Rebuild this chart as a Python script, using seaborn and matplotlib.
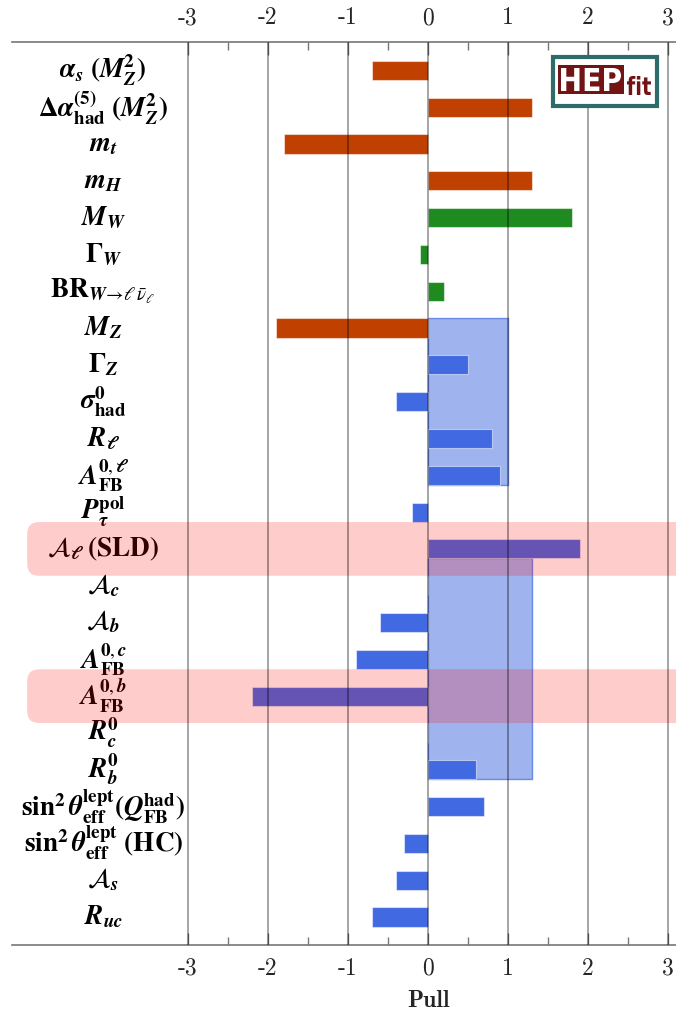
import matplotlib
matplotlib.use("Agg")
import matplotlib.pyplot as plt
import pandas as pd
import seaborn as sns
from matplotlib.patches import Rectangle, FancyBboxPatch, PathPatch
from matplotlib.textpath import TextPath
from matplotlib.font_manager import FontProperties
from matplotlib.transforms import Affine2D

# Observables (top to bottom), their display labels and pulls
params = ["alpha_s", "dalpha_had", "m_t", "m_H", "M_W", "Gamma_W", "BR_W",
          "M_Z", "Gamma_Z", "sigma_had", "R_l", "AFB_l", "P_tau", "A_l_SLD",
          "A_c", "A_b", "AFB_c", "AFB_b", "R_c", "R_b", "s2w_QFB", "s2w_HC",
          "A_s", "R_uc"]

labels = [
    r"$\mathbfit{\alpha_s}\ \mathbf{(}\mathbfit{M_Z^{\mathbf{2}}}\mathbf{)}$",
    r"$\mathbf{\Delta}\mathbfit{\alpha}^{\mathbf{(5)}}_{\mathbf{had}}\ \mathbf{(}\mathbfit{M_Z^{\mathbf{2}}}\mathbf{)}$",
    r"$\mathbfit{m_t}$",
    r"$\mathbfit{m_H}$",
    r"$\mathbfit{M_W}$",
    r"$\mathbf{\Gamma}_{\mathbfit{W}}$",
    r"$\mathbf{BR}_{\mathbfit{W}\!\rightarrow\!\ell\,\bar{\nu}_\ell}$",
    r"$\mathbfit{M_Z}$",
    r"$\mathbf{\Gamma}_{\mathbfit{Z}}$",
    r"$\mathbfit{\sigma}^{\mathbf{0}}_{\mathbf{had}}$",
    r"$\mathbfit{R}_{\mathbfit{\ell}}$",
    r"$\mathbfit{A}^{\mathbf{0},\mathbfit{\ell}}_{\mathbf{FB}}$",
    r"$\mathbfit{P}^{\mathbf{pol}}_{\mathbfit{\tau}}$",
    r"$\mathcal{A}_{\mathbfit{\ell}}\ \mathbf{(SLD)}$",
    r"$\mathcal{A}_{\mathbfit{c}}$",
    r"$\mathcal{A}_{\mathbfit{b}}$",
    r"$\mathbfit{A}^{\mathbf{0},\mathbfit{c}}_{\mathbf{FB}}$",
    r"$\mathbfit{A}^{\mathbf{0},\mathbfit{b}}_{\mathbf{FB}}$",
    r"$\mathbfit{R}^{\mathbf{0}}_{\mathbfit{c}}$",
    r"$\mathbfit{R}^{\mathbf{0}}_{\mathbfit{b}}$",
    r"$\mathbf{sin}^{\mathbf{2}}\,\mathbfit{\theta}^{\mathbf{lept}}_{\mathbf{eff}}\mathbf{(}\mathbfit{Q}^{\mathbf{had}}_{\mathbf{FB}}\mathbf{)}$",
    r"$\mathbf{sin}^{\mathbf{2}}\,\mathbfit{\theta}^{\mathbf{lept}}_{\mathbf{eff}}\ \mathbf{(HC)}$",
    r"$\mathcal{A}_{\mathbfit{s}}$",
    r"$\mathbfit{R}_{\mathbfit{uc}}$",
]

pulls = [-0.7, 1.3, -1.8, 1.3, 1.8, -0.1, 0.2, -1.9, 0.5, -0.4, 0.8, 0.9,
         -0.2, 1.9, 0.0, -0.6, -0.9, -2.2, 0.0, 0.6, 0.7, -0.3, -0.4, -0.7]

groups = (["input"] * 4 + ["W"] * 3 + ["input"] + ["Z"] * 16)

palette = {"input": "#C04000", "W": "#1F8A1F", "Z": "#4169E1"}

# Shaded pull ranges: (first edge, last edge, pull)
shades = [(6.74, 11.26, 1.0), (13.26, 19.26, 1.3)]
# Highlighted rows
highlight_rows = [13, 17]

ticks = [-3, -2, -1, 0, 1, 2, 3]
tick_labels = ["-3", "-2", "-1", "0", "1", "2", "3"]
minor_ticks = [-2.5, -1.5, -0.5, 0.5, 1.5, 2.5]

sns.set_theme(style="white")
plt.rcParams["mathtext.fontset"] = "stix"

W, H = 676, 1011
fig = plt.figure(figsize=(W / 100, H / 100), dpi=100)
ax = fig.add_axes([12 / W, 1 - 945 / H, 1 - 12 / W, (945 - 42) / H])

df = pd.DataFrame({"param": params, "pull": pulls, "group": groups})
sns.barplot(data=df, x="pull", y="param", hue="group", palette=palette,
            dodge=False, orient="h", width=0.52, legend=False, ax=ax,
            edgecolor=(1, 1, 1, 0.5), linewidth=0.8, saturation=1, zorder=2)

royal = (65 / 255, 105 / 255, 225 / 255)
for y0, y1, w in shades:
    ax.add_patch(Rectangle((0, y0), w, y1 - y0, facecolor=(*royal, 0.5),
                           edgecolor=(*royal, 0.7), lw=1, zorder=1))

for r in highlight_rows:
    ax.add_patch(FancyBboxPatch((-5.01, r - 0.73), 8.7, 1.46,
                                boxstyle="round,pad=0,rounding_size=0.15",
                                mutation_aspect=2.17, facecolor=(1, 0, 0, 0.2),
                                edgecolor="none", zorder=4))

for i, lab in enumerate(labels):
    ax.text(-4.06, i, lab, ha="center", va="center", fontsize=19.5, color="black", zorder=3)

for t in ticks:
    ax.axvline(t, color=(0, 0, 0, 0.45), lw=1.1, zorder=5)

ax.set_xlim(-5.2, 3.1)
ax.set_ylim(23.76, -0.77)
ax.set_yticks([])
ax.set_ylabel("")
ax.set_xticks(ticks)
ax.set_xticklabels(tick_labels)
ax.set_xticks(minor_ticks, minor=True)
ax.tick_params(axis="x", which="both", direction="in", top=True, bottom=True,
               labeltop=True, labelbottom=True, color="#777777", labelsize=17,
               pad=9)
ax.tick_params(axis="x", which="major", length=9, width=1)
ax.tick_params(axis="x", which="minor", length=6, width=1)
for lbl in ax.get_xticklabels():
    lbl.set_fontfamily("cmr10")
for side in ["left", "right"]:
    ax.spines[side].set_visible(False)
for side in ["top", "bottom"]:
    ax.spines[side].set_color("#777777")
    ax.spines[side].set_linewidth(1.2)

ax.set_xlabel("Pull", fontfamily="cmb10", fontsize=17)
ax.xaxis.set_label_coords((428 - 12) / (W - 12), (945 - 1001) / (945 - 42))
ax.xaxis.label.set_va("center")

# HEPfit logo, laid out in pixel coordinates (origin at the bottom left)
def fx(px):
    return px / W

def fy(py):
    return 1 - py / H

fig.add_artist(Rectangle((fx(553), fy(106)), fx(104), 49 / H, transform=fig.transFigure,
                         facecolor="white", edgecolor="#2E6B6B", lw=3.0, zorder=10))
fig.add_artist(Rectangle((fx(558), fy(94)), fx(66), 29 / H, transform=fig.transFigure,
                         facecolor="#731414", edgecolor="none", zorder=11))

logo_font = FontProperties(family="DejaVu Sans", weight="bold")

def boxed_text(s, x0, y0, x1, y1, color, z):
    tp = TextPath((0, 0), s, size=10, prop=logo_font)
    ext = tp.get_extents()
    sx = (x1 - x0) / ext.width
    sy = (y1 - y0) / ext.height
    tr = (Affine2D().translate(-ext.x0, -ext.y0).scale(sx, sy)
          .translate(x0, H - y1))
    fig.add_artist(PathPatch(tr.transform_path(tp), facecolor=color,
                             edgecolor="none", transform=None, zorder=z))

boxed_text("HEP", 561, 68, 621, 91, "white", 12)
boxed_text("fit", 627, 76, 651, 95, "#731414", 12)

fig.savefig("out.png", dpi=100)
